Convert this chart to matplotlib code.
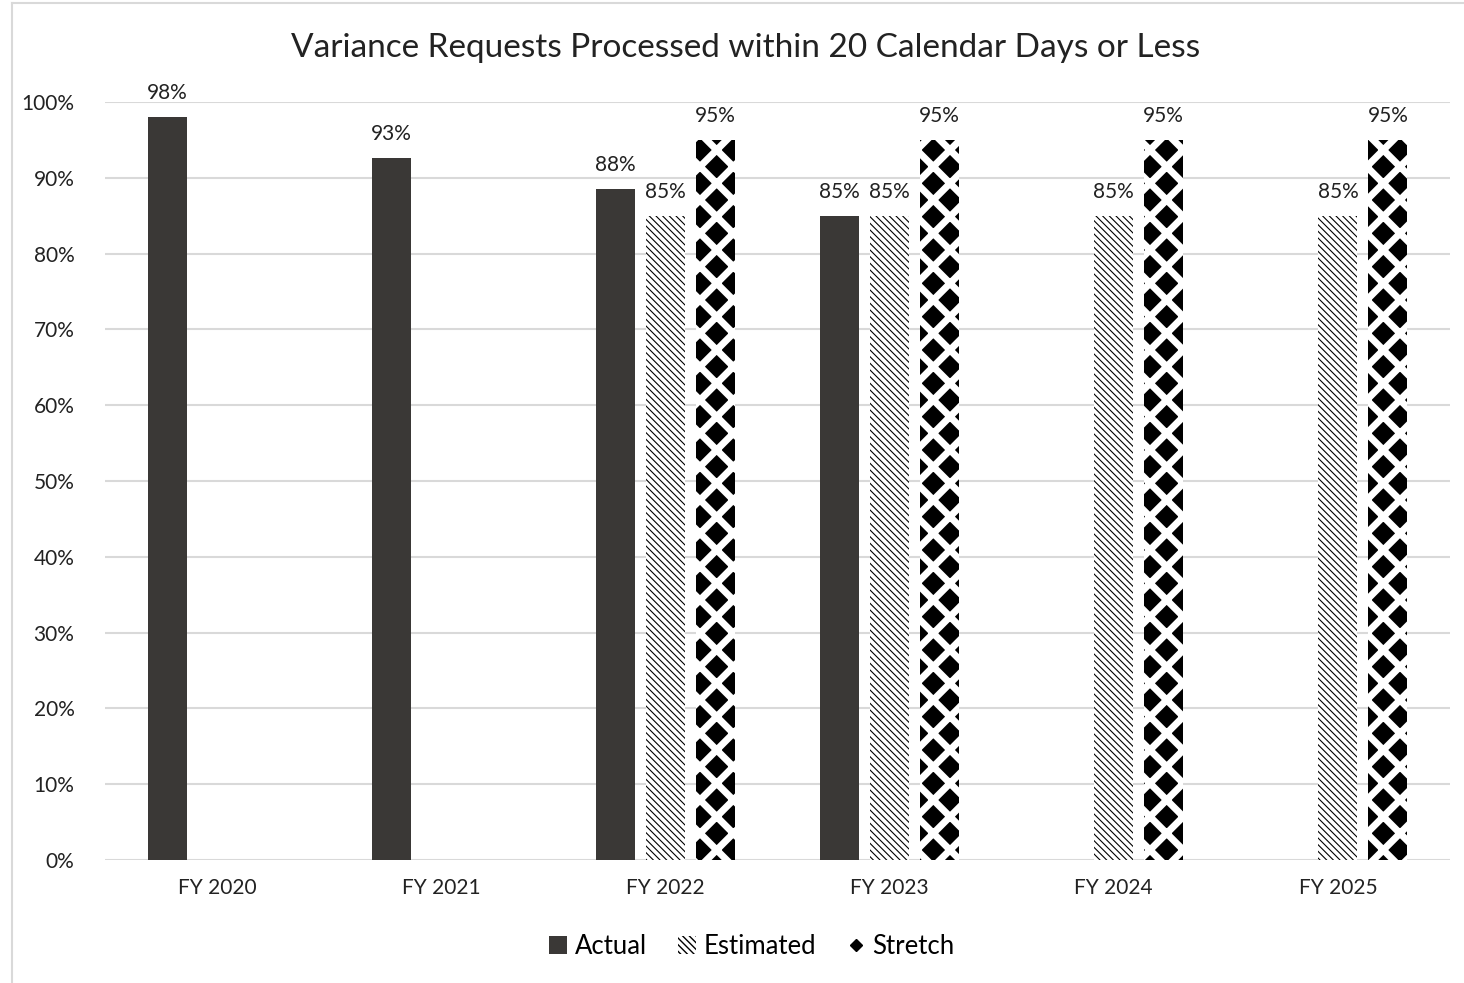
import matplotlib.pyplot as plt
import numpy as np
from matplotlib.lines import Line2D
from matplotlib.patches import Patch

plt.rcParams['font.family'] = ['Lato', 'DejaVu Sans']

# data
years = ['FY 2020', 'FY 2021', 'FY 2022', 'FY 2023', 'FY 2024', 'FY 2025']
actual = [98, 92.6, 88.5, 85, None, None]
estimated = [None, None, 85, 85, 85, 85]
stretch = [None, None, 95, 95, 95, 95]

fig = plt.figure(figsize=(14.64, 9.83), dpi=100)
ax = fig.add_axes([105 / 1464, 1 - 860 / 983, 1345 / 1464, 758 / 983])

x = np.arange(len(years))
w = 0.174
off = 0.223


def vals(series):
    idx = [i for i, v in enumerate(series) if v is not None]
    return np.array(idx), [series[i] for i in idx]


xi, yv = vals(actual)
b1 = ax.bar(xi - off, yv, w, color='#3a3836', zorder=3)

xi, yv = vals(estimated)
with plt.rc_context({'hatch.linewidth': 0.8}):
    b2 = ax.bar(xi, yv, w, facecolor='white', edgecolor='black', linewidth=0,
                hatch='\\\\\\\\\\', zorder=3)

xi, yv = vals(stretch)
b3 = ax.bar(xi + off, yv, w, color='black', linewidth=0, zorder=3)
with plt.rc_context({'hatch.linewidth': 5.0}):
    ax.bar(xi + off, yv, w, facecolor='none', edgecolor='white', linewidth=0,
           hatch='x', zorder=4)

for bars in (b1, b2, b3):
    ax.bar_label(bars, labels=['%d%%' % round(b.get_height()) for b in bars],
                 padding=10, fontsize=15, color='#222222')

ax.set_xlim(-0.5, 5.5)
ax.set_ylim(0, 100)
ax.set_yticks(range(0, 101, 10))
ax.set_yticklabels(['%d%%' % t for t in range(0, 101, 10)])
ax.set_xticks(x)
ax.set_xticklabels(years)
ax.tick_params(axis='both', length=0, labelsize=15, colors='#222222')
ax.tick_params(axis='y', pad=22)
ax.tick_params(axis='x', pad=13)
ax.grid(axis='y', color='#d9d9d9', linewidth=1.5, zorder=0)
for s in ax.spines.values():
    s.set_visible(False)

fig.text(746 / 1464, 1 - 48 / 983, 'Variance Requests Processed within 20 Calendar Days or Less',
         ha='center', va='center', fontsize=24, color='#222222')

handles = [Patch(facecolor='#3a3836'),
           Patch(facecolor='white', edgecolor='black', linewidth=0, hatch='\\\\\\\\\\'),
           Line2D([], [], marker='D', color='black', linestyle='none', markersize=6)]
fig.legend(handles, ['Actual', 'Estimated', 'Stretch'], loc='center',
           bbox_to_anchor=(752 / 1464, 1 - 946 / 983), ncol=3, frameon=False,
           fontsize=18.5, handlelength=0.7, handletextpad=0.3, columnspacing=1.2)

# outer chart border (cropped screenshot)
fig.add_artist(Line2D([12 / 1464, 12 / 1464], [0, 1 - 3 / 983], transform=fig.transFigure,
                      color='#d9d9d9', linewidth=1.5))
fig.add_artist(Line2D([12 / 1464, 1], [1 - 3 / 983, 1 - 3 / 983], transform=fig.transFigure,
                      color='#d9d9d9', linewidth=1.5))

fig.savefig('out.png', dpi=100)
